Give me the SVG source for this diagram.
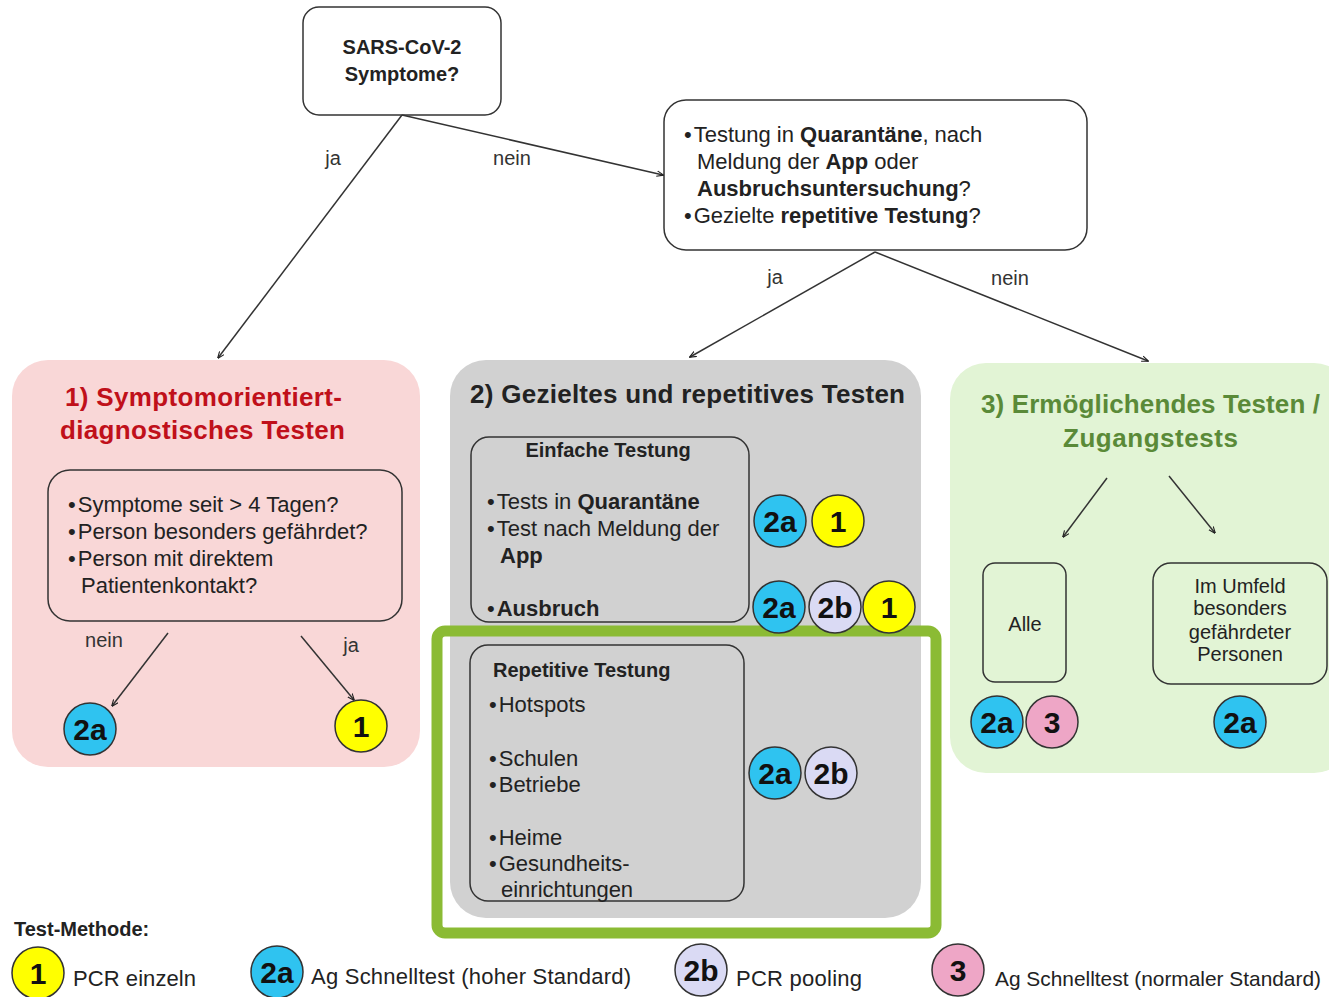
<svg xmlns="http://www.w3.org/2000/svg" width="1329" height="997" viewBox="0 0 1329 997">
<defs>
<marker id="ah" viewBox="0 0 10 10" refX="9" refY="5" markerWidth="7" markerHeight="7" orient="auto-start-reverse" markerUnits="userSpaceOnUse">
<path d="M0,1 L10,5 L0,9" fill="none" stroke="#222" stroke-width="1.6"/>
</marker>
<style>
text{font-family:"Liberation Sans",Arial,sans-serif;fill:#222}
.b{font-weight:bold}
.box{fill:none;stroke:#333;stroke-width:1.5}
.wbox{fill:#fff;stroke:#333;stroke-width:1.5}
.t21{font-size:22px}
.t20{font-size:20px}
.lbl{font-size:20px;fill:#333}
.title{font-size:26px;font-weight:bold}
.conn{stroke:#333;stroke-width:1.5;fill:none;marker-end:url(#ah)}
.c1{fill:#ffff00;stroke:#333;stroke-width:1.5}
.c2a{fill:#2fc3f0;stroke:#333;stroke-width:1.5}
.c2b{fill:#dadaf4;stroke:#333;stroke-width:1.5}
.c3{fill:#eea6c6;stroke:#333;stroke-width:1.5}
.cn{font-size:30px;font-weight:bold;text-anchor:middle;fill:#111}
</style>
</defs>
<rect width="1329" height="997" fill="#fff"/>

<!-- panels -->
<g id="panel1">
<rect x="12" y="360" width="408" height="407" rx="36" fill="#f9d7d7"/>
<text class="title" x="65" y="406" textLength="277" style="fill:#c0101a">1) Symptomorientiert-</text>
<text class="title" x="60" y="439" textLength="285" style="fill:#c0101a">diagnostisches Testen</text>
</g>
<g id="panel2">
<rect x="450" y="360" width="471" height="558" rx="36" fill="#d1d1d1"/>
<text class="title" x="470" y="403" textLength="435">2) Gezieltes und repetitives Testen</text>
</g>
<g id="panel3">
<rect x="950" y="363" width="400" height="410" rx="36" fill="#e2f4d5"/>
<text class="title" x="981" y="413" textLength="339" style="fill:#5a8a38">3) Ermöglichendes Testen /</text>
<text class="title" x="1063" y="447" textLength="175" style="fill:#5a8a38">Zugangstests</text>
</g>

<g id="q1">
<rect class="wbox" x="303" y="7" width="198" height="108" rx="16"/>
<text class="b t20" x="402" y="54" text-anchor="middle">SARS-CoV-2</text>
<text class="b t20" x="402" y="81" text-anchor="middle">Symptome?</text>
</g>

<g id="q2">
<rect class="wbox" x="664" y="100" width="423" height="150" rx="22"/>
<text class="t21" x="684" y="142">•<tspan dx="2">Testung in </tspan><tspan class="b">Quarantäne</tspan>, nach</text>
<text class="t21" x="697" y="169">Meldung der <tspan class="b">App</tspan>  oder</text>
<text class="t21 b" x="697" y="196">Ausbruchsuntersuchung<tspan font-weight="normal">?</tspan></text>
<text class="t21" x="684" y="223">•<tspan dx="2">Gezielte </tspan><tspan class="b">repetitive Testung</tspan>?</text>
</g>

<g id="q3">
<rect class="box" x="48" y="470" width="354" height="151" rx="22"/>
<text class="t21" x="68" y="512">•<tspan dx="2">Symptome seit &gt; 4 Tagen?</tspan></text>
<text class="t21" x="68" y="539">•<tspan dx="2">Person besonders gefährdet?</tspan></text>
<text class="t21" x="68" y="566">•<tspan dx="2">Person mit direktem</tspan></text>
<text class="t21" x="81" y="593">Patientenkontakt?</text>
</g>

<g id="einfache">
<rect class="box" x="471" y="437" width="278" height="185" rx="18"/>
<text class="b t20" x="608" y="457" text-anchor="middle">Einfache Testung</text>
<text class="t21" x="487" y="509">•<tspan dx="2">Tests in </tspan><tspan class="b">Quarantäne</tspan></text>
<text class="t21" x="487" y="536">•<tspan dx="2">Test nach Meldung der</tspan></text>
<text class="t21 b" x="500" y="563">App</text>
<text class="t21" x="487" y="616">•<tspan dx="2" class="b">Ausbruch</tspan></text>
</g>

<g id="repetitive">
<rect x="437" y="631" width="499" height="302" rx="8" fill="none" stroke="#8bbb34" stroke-width="11"/>
<rect class="box" x="470" y="645" width="274" height="256" rx="18"/>
<text class="b t20" x="493" y="677">Repetitive Testung</text>
<text class="t21" x="489" y="712">•<tspan dx="2">Hotspots</tspan></text>
<text class="t21" x="489" y="766">•<tspan dx="2">Schulen</tspan></text>
<text class="t21" x="489" y="792">•<tspan dx="2">Betriebe</tspan></text>
<text class="t21" x="489" y="845">•<tspan dx="2">Heime</tspan></text>
<text class="t21" x="489" y="871">•<tspan dx="2">Gesundheits-</tspan></text>
<text class="t21" x="501" y="897">einrichtungen</text>
</g>

<g id="alle">
<rect class="box" x="983" y="563" width="83" height="119" rx="12"/>
<text class="t20" x="1025" y="631" text-anchor="middle">Alle</text>
</g>
<g id="umfeld">
<rect class="box" x="1153" y="563" width="174" height="121" rx="18"/>
<text class="t20" x="1240" y="593" text-anchor="middle">Im Umfeld</text>
<text class="t20" x="1240" y="615" text-anchor="middle">besonders</text>
<text class="t20" x="1240" y="639" text-anchor="middle">gefährdeter</text>
<text class="t20" x="1240" y="661" text-anchor="middle">Personen</text>
</g>

<!-- connectors -->
<g id="connectors">
<line class="conn" x1="402" y1="115" x2="218" y2="358"/>
<line class="conn" x1="402" y1="115" x2="663" y2="175"/>
<line class="conn" x1="875" y1="252" x2="690" y2="357"/>
<line class="conn" x1="875" y1="252" x2="1148" y2="361"/>
<line class="conn" x1="168" y1="633" x2="112" y2="706"/>
<line class="conn" x1="301" y1="636" x2="354" y2="700"/>
<line class="conn" x1="1107" y1="478" x2="1063" y2="537"/>
<line class="conn" x1="1169" y1="476" x2="1215" y2="533"/>
<text class="lbl" x="333" y="165" text-anchor="middle">ja</text>
<text class="lbl" x="512" y="165" text-anchor="middle">nein</text>
<text class="lbl" x="775" y="284" text-anchor="middle">ja</text>
<text class="lbl" x="1010" y="285" text-anchor="middle">nein</text>
<text class="lbl" x="104" y="647" text-anchor="middle">nein</text>
<text class="lbl" x="351" y="652" text-anchor="middle">ja</text>
</g>

<!-- method badges -->
<g id="badges">
<circle class="c2a" cx="90" cy="729" r="26"/><text class="cn" x="90" y="740">2a</text>
<circle class="c1" cx="361" cy="726" r="26"/><text class="cn" x="361" y="737">1</text>

<circle class="c2a" cx="780" cy="521" r="26"/><text class="cn" x="780" y="532">2a</text>
<circle class="c1" cx="838" cy="521" r="26"/><text class="cn" x="838" y="532">1</text>

<circle class="c2a" cx="779" cy="607" r="26"/><text class="cn" x="779" y="618">2a</text>
<circle class="c2b" cx="835" cy="607" r="26"/><text class="cn" x="835" y="618">2b</text>
<circle class="c1" cx="889" cy="607" r="26"/><text class="cn" x="889" y="618">1</text>

<circle class="c2a" cx="775" cy="773" r="26"/><text class="cn" x="775" y="784">2a</text>
<circle class="c2b" cx="831" cy="773" r="26"/><text class="cn" x="831" y="784">2b</text>

<circle class="c2a" cx="997" cy="722" r="26"/><text class="cn" x="997" y="733">2a</text>
<circle class="c3" cx="1052" cy="722" r="26"/><text class="cn" x="1052" y="733">3</text>
<circle class="c2a" cx="1240" cy="722" r="26"/><text class="cn" x="1240" y="733">2a</text>
</g>

<!-- legend -->
<g id="legend">
<text class="b t20" x="14" y="936">Test-Methode:</text>
<circle class="c1" cx="38" cy="973" r="26"/><text class="cn" x="38" y="984">1</text>
<text class="t21" x="73" y="986" textLength="123">PCR einzeln</text>
<circle class="c2a" cx="277" cy="972" r="26"/><text class="cn" x="277" y="983">2a</text>
<text class="t21" x="311" y="984" textLength="320">Ag Schnelltest (hoher Standard)</text>
<circle class="c2b" cx="701" cy="970" r="26"/><text class="cn" x="701" y="981">2b</text>
<text class="t21" x="736" y="986" textLength="126">PCR pooling</text>
<circle class="c3" cx="958" cy="970" r="26"/><text class="cn" x="958" y="981">3</text>
<text x="995" y="986" font-size="21" textLength="326" lengthAdjust="spacingAndGlyphs">Ag Schnelltest (normaler Standard)</text>
</g>
</svg>
